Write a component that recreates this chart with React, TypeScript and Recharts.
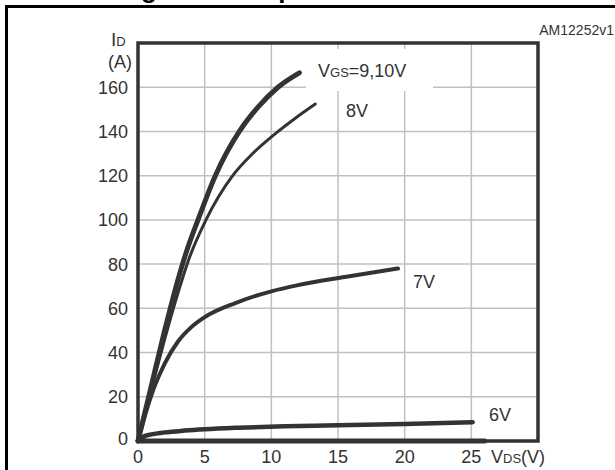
import React from "react"
import { LineChart, Line, XAxis, YAxis, CartesianGrid, ReferenceArea } from "recharts"

// axis ticks
const vdsTicks = [0, 5, 10, 15, 20, 25, 30]
const idTicks = [0, 20, 40, 60, 80, 100, 120, 140, 160, 180]

// VGS = 9,10V (thick, overlapping)
const vgs10Vds = [0, 1, 2, 3, 3.6, 4.5, 5.8, 7.6, 9, 10.5, 12.1]
const vgs10Id = [0, 25, 50, 73, 85, 100, 120, 140, 151, 160, 166.5]

// VGS = 8V
const vgs8Vds = [0, 1, 2, 3, 3.8, 5.1, 7.1, 8.6, 10.3, 11.8, 13.3]
const vgs8Id = [0, 23.5, 46, 67, 82, 100, 120, 130, 139, 146, 152.4]

// VGS = 7V
const vgs7Vds = [0, 0.6, 1.2, 2, 3, 4, 5, 7.3, 10, 12, 15.5, 19.5]
const vgs7Id = [0, 13, 24, 35, 45, 51.5, 56, 62.4, 67.7, 70.5, 74.2, 78]

// VGS = 6V
const vgs6Vds = [0, 0.5, 1, 2, 3.5, 5, 7.5, 11, 15, 20, 25.1]
const vgs6Id = [0, 2.2, 3, 3.9, 4.7, 5.3, 6, 6.7, 7.1, 7.7, 8.5]

// lowest VGS, flat on zero
const vgs5Vds = [0, 26]
const vgs5Id = [0, 0]

const toPoints = (xs: number[], ys: number[]) => xs.map((x, i) => ({ vds: x, id: ys[i] }))

const curves = [
  { key: "vgs5", data: toPoints(vgs5Vds, vgs5Id), width: 5 },
  { key: "vgs6", data: toPoints(vgs6Vds, vgs6Id), width: 4.5 },
  { key: "vgs7", data: toPoints(vgs7Vds, vgs7Id), width: 4 },
  { key: "vgs8", data: toPoints(vgs8Vds, vgs8Id), width: 3 },
  { key: "vgs10", data: toPoints(vgs10Vds, vgs10Id), width: 5 },
]

const font = "'Liberation Sans', Arial, sans-serif"
const ink = "#333"

const XTick = ({ x, y, payload }: any) => {
  if (payload.value === 30) return <g />
  return (
    <text x={x} y={y} dy={22} textAnchor="middle" fill={ink} fontSize={18} fontFamily={font}>
      {payload.value}
    </text>
  )
}

const YTick = ({ x, y, payload }: any) => {
  if (payload.value === 180) return <g />
  return (
    <text x={x - 10} y={y} dy={payload.value === 0 ? 4 : 6.5} textAnchor="end" fill={ink} fontSize={18} fontFamily={font}>
      {payload.value}
    </text>
  )
}

export default function App() {
  return (
    <div style={{ position: "absolute", left: 0, top: 0, width: 615, height: 470, overflow: "hidden", background: "#fff" }}>
      <LineChart width={615} height={470} margin={{ top: 43, right: 77, bottom: 0, left: 78 }}>
        <CartesianGrid stroke="#c0c0c0" strokeWidth={1.5} />
        <XAxis
          dataKey="vds"
          type="number"
          domain={[0, 30]}
          ticks={vdsTicks}
          height={29}
          axisLine={false}
          tickLine={false}
          tickSize={0}
          tickMargin={0}
          tick={<XTick />}
          allowDuplicatedCategory={false}
        />
        <YAxis
          dataKey="id"
          type="number"
          domain={[0, 180]}
          ticks={idTicks}
          width={60}
          axisLine={false}
          tickLine={false}
          tickSize={0}
          tickMargin={0}
          tick={<YTick />}
        />
        <ReferenceArea x1={0} x2={30} y1={0} y2={180} fill="none" stroke={ink} strokeWidth={3.5} />
        {curves.map((c) => (
          <Line
            key={c.key}
            data={c.data}
            dataKey="id"
            type="monotone"
            stroke={ink}
            strokeWidth={c.width}
            strokeLinecap="round"
            dot={false}
            activeDot={false}
            isAnimationActive={false}
          />
        ))}
      </LineChart>
      <svg
        width={615}
        height={470}
        style={{ position: "absolute", left: 0, top: 0, pointerEvents: "none" }}
        fontFamily={font}
      >
        {/* figure title, cut off by the top edge as in the source */}
        <text x={118} y={-2} fontSize={26} fontWeight="bold" fill="#000">
          Figure 6. Output characteristics
        </text>
        <rect x={6.5} y={6.5} width={800} height={800} fill="none" stroke="#000" strokeWidth={3} />
        <text x={614} y={35} fontSize={14} fill={ink} textAnchor="end">AM12252v1</text>
        <text x={111} y={46} fontSize={19} fill={ink}>
          I<tspan fontSize={13}>D</tspan>
        </text>
        <text x={132} y={68} fontSize={18} fill={ink} textAnchor="end">(A)</text>
        <text x={491} y={463} fontSize={18} fill={ink}>
          V<tspan fontSize={13}>DS</tspan>(V)
        </text>
        <rect x={306} y={49} width={127} height={42} fill="#fff" />
        <text x={318} y={77} fontSize={18} fill={ink}>
          V<tspan fontSize={13}>GS</tspan>=9,10V
        </text>
        <text x={346} y={117} fontSize={18} fill={ink}>8V</text>
        <text x={413} y={288} fontSize={18} fill={ink}>7V</text>
        <text x={489} y={421} fontSize={18} fill={ink}>6V</text>
      </svg>
    </div>
  )
}
